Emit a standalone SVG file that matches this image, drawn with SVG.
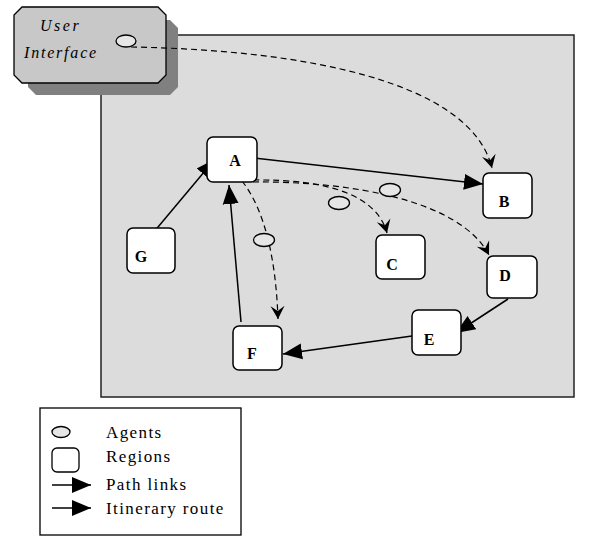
<svg xmlns="http://www.w3.org/2000/svg" width="590" height="536" viewBox="0 0 590 536">
<style>
.node rect{fill:#fff;stroke:#000;stroke-width:1.5}
.lbl{font-family:"Liberation Serif",serif;font-weight:bold;font-size:16px;text-anchor:middle}
.agent{fill:#e6e6e6;stroke:#000;stroke-width:1.3}
.solid{fill:none;stroke:#000;stroke-width:1.5}
.dash{fill:none;stroke:#000;stroke-width:1.2;stroke-dasharray:6,4}
.leg{font-family:"Liberation Serif",serif;font-size:17px;letter-spacing:1.4px}
</style>
<defs>
<marker id="tri" viewBox="-19 -9 19 18" refX="0" refY="0" markerWidth="19" markerHeight="18" markerUnits="userSpaceOnUse" orient="auto">
<path d="M-19,-8 L0,0 L-19,8 z" fill="#000"/>
</marker>
<marker id="chev" viewBox="-14 -8 14 16" refX="0" refY="0" markerWidth="14" markerHeight="16" markerUnits="userSpaceOnUse" orient="auto">
<path d="M-13,-7 L0,0 L-13,7 L-8,0 z" fill="#000"/>
</marker>
</defs>
<rect width="590" height="536" fill="#fff"/>
<rect id="region-area" x="101" y="35" width="473" height="362" fill="#dcdcdc" stroke="#222" stroke-width="1.5"/>
<g id="user-interface">
<path d="M36,20 L170,20 L178,28 L178,87 L170,95 L36,95 L28,87 L28,28 z" fill="#808080"/>
<path d="M22,7 L158,7 L166,15 L166,75 L158,83 L22,83 L14,75 L14,15 z" fill="#c8c8c8" stroke="#000" stroke-width="1.3"/>
<text x="40" y="31" font-family="Liberation Serif,serif" font-style="italic" font-size="16" letter-spacing="2.5">User</text>
<text x="24" y="58" font-family="Liberation Serif,serif" font-style="italic" font-size="16" letter-spacing="1.8">Interface</text>
</g>
<g id="connectors">
<path class="dash" d="M131,47 C300,50 470,80 492,168" marker-end="url(#chev)"/>
<line class="solid" x1="153" y1="233" x2="215" y2="159" marker-end="url(#tri)"/>
<line class="solid" x1="241" y1="322" x2="229" y2="185" marker-end="url(#tri)"/>
<line class="solid" x1="253" y1="158" x2="483" y2="184" marker-end="url(#tri)"/>
<line class="solid" x1="508" y1="299" x2="456" y2="333" marker-end="url(#tri)"/>
<line class="solid" x1="412" y1="336" x2="283" y2="354" marker-end="url(#tri)"/>
<path class="dash" d="M253,180 C330,179 377,196 387,233" marker-end="url(#chev)"/>
<path class="dash" d="M253,182 C350,181 460,200 489,255" marker-end="url(#chev)"/>
<path class="dash" d="M242,181 C265,210 276,260 278,319" marker-end="url(#chev)"/>
</g>
<g id="agents">
<ellipse class="agent" cx="126" cy="41" rx="10" ry="6"/>
<ellipse class="agent" cx="339" cy="203" rx="10.5" ry="6.5"/>
<ellipse class="agent" cx="390" cy="190" rx="10.5" ry="6.5"/>
<ellipse class="agent" cx="264" cy="240" rx="10.5" ry="6.5"/>
</g>
<g id="node-A" class="node"><rect x="207" y="137" width="50" height="45" rx="6"/><text class="lbl" x="235" y="166">A</text></g>
<g id="node-B" class="node"><rect x="483" y="173" width="49" height="45" rx="6"/><text class="lbl" x="504" y="207">B</text></g>
<g id="node-C" class="node"><rect x="376" y="235" width="49" height="44" rx="6"/><text class="lbl" x="392" y="270">C</text></g>
<g id="node-D" class="node"><rect x="487" y="256" width="50" height="42" rx="6"/><text class="lbl" x="505" y="281">D</text></g>
<g id="node-E" class="node"><rect x="412" y="310" width="49" height="45" rx="6"/><text class="lbl" x="429" y="345">E</text></g>
<g id="node-F" class="node"><rect x="233" y="326" width="49" height="44" rx="6"/><text class="lbl" x="252" y="359">F</text></g>
<g id="node-G" class="node"><rect x="127" y="228" width="48" height="45" rx="6"/><text class="lbl" x="141" y="262">G</text></g>
<g id="legend">
<rect x="40" y="408" width="201" height="127" fill="#fff" stroke="#000" stroke-width="1.3"/>
<ellipse class="agent" cx="61" cy="432" rx="9" ry="5.5"/>
<text class="leg" x="106" y="438">Agents</text>
<rect x="52" y="448" width="27" height="24" rx="5" fill="#fff" stroke="#000" stroke-width="1.3"/>
<text class="leg" x="106" y="462">Regions</text>
<line class="solid" x1="52" y1="485" x2="91" y2="485" marker-end="url(#tri)"/>
<text class="leg" x="106" y="490">Path links</text>
<line class="solid" x1="52" y1="508" x2="91" y2="508" marker-end="url(#tri)"/>
<text class="leg" x="106" y="514">Itinerary route</text>
</g>
</svg>
